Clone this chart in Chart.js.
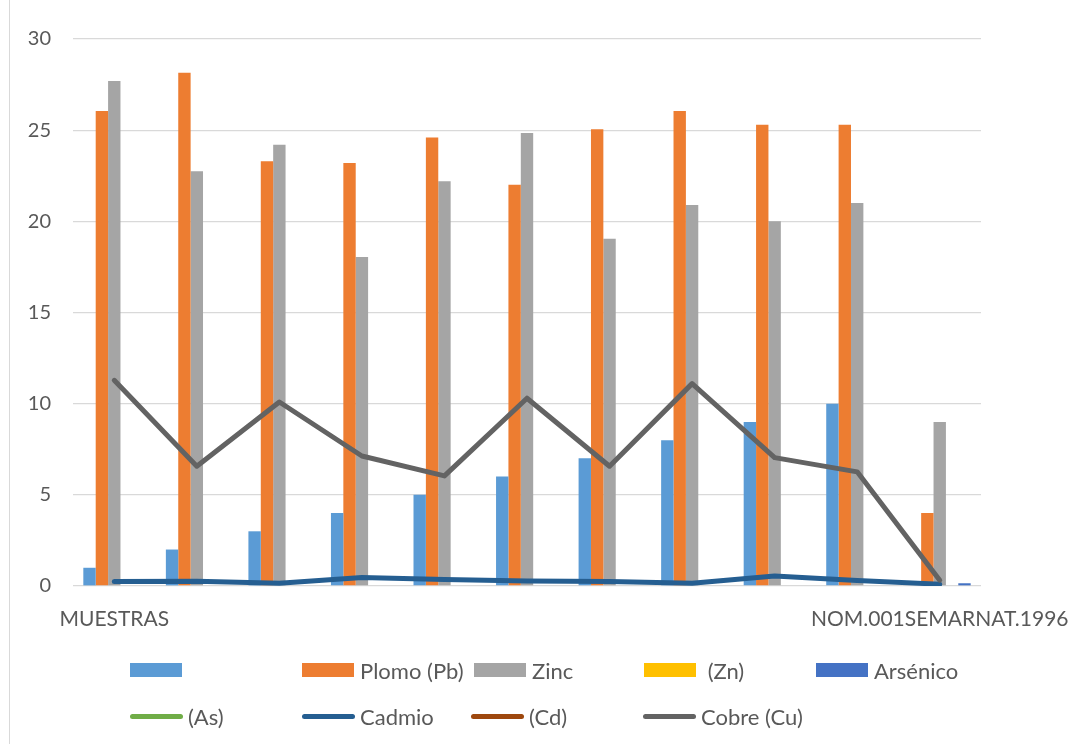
<!DOCTYPE html>
<html>
<head>
<meta charset="utf-8">
<script src="https://cdn.jsdelivr.net/npm/chart.js@4.4.1/dist/chart.umd.min.js"></script>
<style>
  html, body { margin: 0; padding: 0; background: #ffffff; }
  #wrap { position: relative; width: 1080px; height: 744px; overflow: hidden; }
  #frame { position: absolute; left: 9px; top: 0; width: 1px; height: 744px; background: #d9d9d9; }
  #chart { position: absolute; left: 0; top: 0; }
  #legend { position: absolute; left: 0; top: 0; width: 1080px; height: 744px; pointer-events: none;
            font-family: Lato, "Open Sans", sans-serif; font-size: 22px; color: #595959; }
  .item { position: absolute; display: flex; align-items: center; height: 26px; white-space: pre; }
  .box { width: 52px; height: 14px; margin-right: 6px; }
  .ln { width: 53px; height: 5px; border-radius: 3px; margin-right: 5px; }
</style>
</head>
<body>
<div id="wrap">
  <div id="frame"></div>
  <canvas id="chart" width="1080" height="744"></canvas>
  <div id="legend"></div>
</div>
<script>
// Categories along the x axis (only the first and last carry a caption)
const categories = ['MUESTRAS', '', '', '', '', '', '', '', '', '', 'NOM.001SEMARNAT.1996'];

// Bar series
const muestra   = [1, 2, 3, 4, 5, 6, 7, 8, 9, 10, 0];
const plomo     = [26.05, 28.15, 23.3, 23.2, 24.6, 22.0, 25.05, 26.05, 25.3, 25.3, 4.0];
const zinc      = [27.7, 22.75, 24.2, 18.05, 22.2, 24.85, 19.05, 20.9, 20.0, 21.0, 9.0];
const zn        = [0, 0, 0, 0, 0, 0, 0, 0, 0, 0, 0];
const arsenico  = [0, 0, 0, 0, 0, 0, 0, 0, 0, 0, 0.15];

// Line series
const as        = [null, null, null, null, null, null, null, null, null, null, null];
const cadmio    = [0.24, 0.26, 0.15, 0.47, 0.36, 0.27, 0.25, 0.15, 0.55, 0.3, 0.1];
const cd        = [null, null, null, null, null, null, null, null, null, null, null];
const cobre     = [11.28, 6.57, 10.09, 7.13, 6.04, 10.3, 6.57, 11.1, 7.04, 6.26, 0.32];

// Value axis ticks
const yTicks = [0, 5, 10, 15, 20, 25, 30];

const TEXT = '#595959';
const GRID = '#d9d9d9';
const FONT = 'Lato, "Open Sans", sans-serif';

function bar(label, data, color) {
  return { type: 'bar', label, data, backgroundColor: color, borderWidth: 0,
           categoryPercentage: 0.75, barPercentage: 1.0, order: 2 };
}
function line(label, data, color, order) {
  return { type: 'line', label, data, borderColor: color, backgroundColor: color,
           borderWidth: 5, pointRadius: 0, pointHoverRadius: 0, tension: 0,
           borderCapStyle: 'round', borderJoinStyle: 'round', spanGaps: false, order };
}

const datasets = [
  bar('', muestra, '#5b9bd5'),
  bar('Plomo (Pb)', plomo, '#ed7d31'),
  bar('Zinc', zinc, '#a5a5a5'),
  bar(' (Zn)', zn, '#ffc000'),
  bar('Arsénico', arsenico, '#4472c4'),
  line('(As)', as, '#70ad47', 1),
  line('Cadmio', cadmio, '#255e91', 1),
  line('(Cd)', cd, '#9e480e', 1),
  line('Cobre (Cu)', cobre, '#636363', 0)
];

const chart = new Chart(document.getElementById('chart'), {
  type: 'bar',
  data: { labels: categories, datasets },
  options: {
    responsive: false,
    animation: false,
    devicePixelRatio: 1,
    layout: { padding: { left: 0, right: 99, top: 39, bottom: 108 } },
    plugins: { legend: { display: false }, tooltip: { enabled: false } },
    scales: {
      x: {
        grid: { display: false },
        border: { display: false },
        ticks: { autoSkip: false, maxRotation: 0, minRotation: 0, padding: 13,
                 color: TEXT, font: { family: FONT, size: 21 } },
        afterFit: (s) => { s.height = 50; s.paddingLeft = 0; s.paddingRight = 0; }
      },
      y: {
        min: 0, max: 30,
        afterBuildTicks: (s) => { s.ticks = yTicks.map(v => ({ value: v })); },
        grid: { color: GRID, lineWidth: 1.3, drawTicks: false },
        border: { display: false },
        ticks: { padding: 22, color: TEXT, font: { family: FONT, size: 20 } },
        afterFit: (s) => { s.width = 73; }
      }
    }
  }
});

// Legend laid out in two rows of fixed columns
const legendPos = [
  [130, 670], [302, 670], [474, 670], [644, 670], [816, 670],
  [130, 716], [302, 716], [471, 716], [643, 716]
];
const legend = document.getElementById('legend');
chart.data.datasets.forEach((ds, i) => {
  const item = document.createElement('div');
  item.className = 'item';
  item.style.left = legendPos[i][0] + 'px';
  item.style.top = (legendPos[i][1] - 13) + 'px';
  const mark = document.createElement('span');
  if (ds.type === 'bar') {
    mark.className = 'box';
    mark.style.background = ds.backgroundColor;
  } else {
    mark.className = 'ln';
    mark.style.background = ds.borderColor;
  }
  const txt = document.createElement('span');
  txt.textContent = ds.label;
  item.appendChild(mark);
  item.appendChild(txt);
  legend.appendChild(item);
});
</script>
</body>
</html>
